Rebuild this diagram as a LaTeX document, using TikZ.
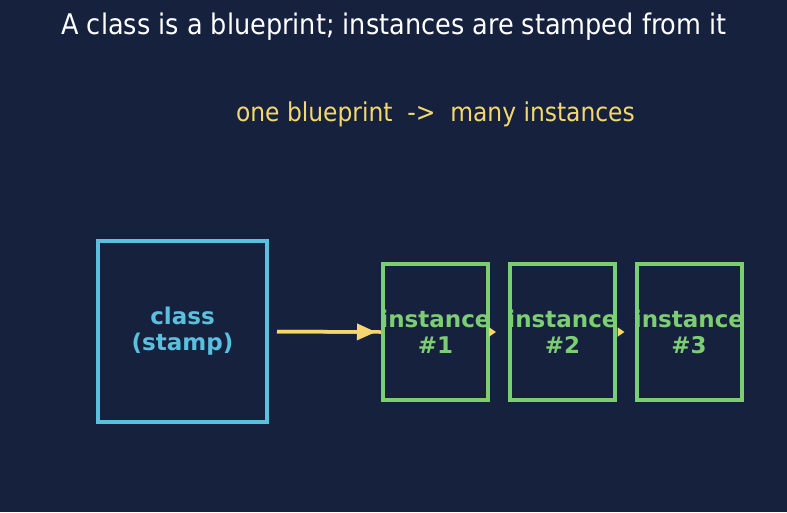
\documentclass[tikz,border=0pt]{standalone}
\usepackage{fontspec}
\setmainfont{DejaVu Sans}
\newfontfamily\condfont{DejaVu Sans Condensed}
\usetikzlibrary{arrows.meta}
\definecolor{bgc}{HTML}{16213E}
\definecolor{cyanc}{HTML}{5BC0DE}
\definecolor{greenc}{HTML}{7DCE72}
\definecolor{yelc}{HTML}{F5D76E}
\tikzset{
  classbox/.style={draw=cyanc, line width=4pt, minimum width=169pt, minimum height=181pt, inner sep=0pt},
  instbox/.style={draw=greenc, line width=4pt, minimum width=105pt, minimum height=136pt, inner sep=0pt},
  lbl/.style={font=\fontsize{23}{26}\selectfont\bfseries, align=center, inner sep=0pt},
  conn/.style={draw=yelc, line width=3.5pt},
}
\begin{document}
\begin{tikzpicture}[x=1pt,y=-1pt]
\fill[bgc] (0,0) rectangle (787,512);
\useasboundingbox (0,0) rectangle (787,512);
\node[text=white, font=\condfont\fontsize{28.4}{32}\selectfont] (title) at (394,27) {A class is a blueprint; instances are stamped from it};
\node[text=yelc, font=\condfont\fontsize{26}{30}\selectfont] (sub) at (435.5,114) {one blueprint\ \ ->\ \ many instances};
\node[classbox] (cls) at (182.5,331.5) {};
\node[instbox] (i1) at (435.5,332) {};
\node[instbox] (i2) at (562.5,332) {};
\node[instbox] (i3) at (689,332) {};
\draw[conn] ([xshift=8pt]cls.east) -- (i1.west);
\draw[conn, -{Triangle[length=19pt,width=16pt]}, shorten <=8pt, shorten >=5pt] (cls.east) -- (i1.west);
\draw[conn, -{Triangle[length=7pt,width=9pt]}, shorten >=12pt] (i1.east) -- (i2.west);
\draw[conn, -{Triangle[length=7pt,width=9pt]}, shorten >=10pt, shorten <=2pt] (i2.east) -- (i3.west);
\node[lbl, text=cyanc] (clst) at (cls) {class\\(stamp)};
\node[lbl, text=greenc] (i1t) at (i1) {instance\\\#1};
\node[lbl, text=greenc] (i2t) at (i2) {instance\\\#2};
\node[lbl, text=greenc] (i3t) at (i3) {instance\\\#3};
\end{tikzpicture}
\end{document}
